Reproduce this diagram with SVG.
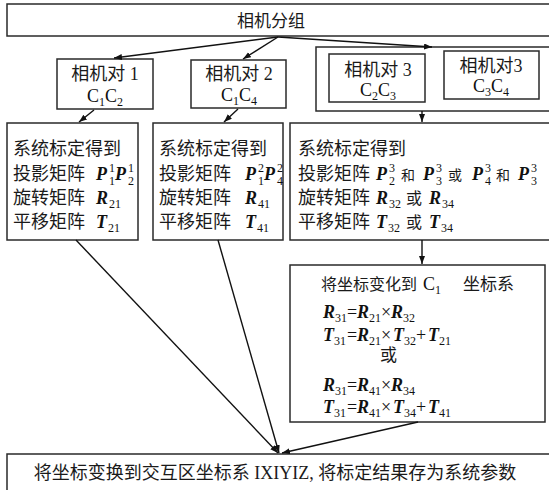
<svg xmlns="http://www.w3.org/2000/svg" width="549" height="490" viewBox="0 0 549 490">
<style>
rect.b { fill: #fff; stroke: #2a2a2a; stroke-width: 1.5; }
.cj { font-family: "Liberation Serif", "Noto Sans CJK SC", serif; font-size: 18px; fill: #1a1a1a; }
.mb { font-family: "Liberation Serif", serif; font-weight: bold; font-style: italic; font-size: 18px; fill: #111; }
.sb { font-family: "Liberation Serif", serif; font-size: 12px; fill: #111; }
.rm { font-family: "Liberation Serif", serif; font-size: 18px; fill: #111; }
.sm { font-family: "Noto Sans CJK SC", sans-serif; font-size: 14px; fill: #1a1a1a; }
#connectors line { stroke: #111; stroke-width: 1.4; marker-end: url(#ah); }
</style>
<defs>
<marker id="ah" markerUnits="userSpaceOnUse" markerWidth="9" markerHeight="7" refX="8" refY="3" orient="auto">
<path d="M0,0 L8,3 L0,6 z" fill="#111"/>
</marker>
</defs>
<rect width="549" height="490" fill="#fff"/>

<g id="top">
<rect class="b" x="7" y="4" width="560" height="32"/>
<text class="cj" x="271" y="27" text-anchor="middle" style="font-size:17px">相机分组</text>
</g>

<g id="pair1">
<rect class="b" x="57" y="59" width="96" height="50"/>
<text class="cj" x="105" y="80" text-anchor="middle">相机对 1</text>
<text class="rm" x="105" y="102" text-anchor="middle">C<tspan class="sb" dy="4">1</tspan><tspan dy="-4">C</tspan><tspan class="sb" dy="4">2</tspan></text>
</g>

<g id="pair2">
<rect class="b" x="191" y="60" width="95" height="48"/>
<text class="cj" x="239" y="80" text-anchor="middle">相机对 2</text>
<text class="rm" x="239" y="101" text-anchor="middle">C<tspan class="sb" dy="4">1</tspan><tspan dy="-4">C</tspan><tspan class="sb" dy="4">4</tspan></text>
</g>

<g id="pair3group">
<rect class="b" x="316" y="47" width="250" height="64"/>
<g id="pair3a">
<rect class="b" x="329" y="54" width="96" height="48"/>
<text class="cj" x="378" y="76" text-anchor="middle">相机对 3</text>
<text class="rm" x="378" y="96" text-anchor="middle">C<tspan class="sb" dy="4">2</tspan><tspan dy="-4">C</tspan><tspan class="sb" dy="4">3</tspan></text>
</g>
<g id="pair3b">
<rect class="b" x="444" y="51" width="95" height="48"/>
<text class="cj" x="491" y="72" text-anchor="middle">相机对3</text>
<text class="rm" x="491" y="92" text-anchor="middle">C<tspan class="sb" dy="4">3</tspan><tspan dy="-4">C</tspan><tspan class="sb" dy="4">4</tspan></text>
</g>
</g>

<g id="calib1">
<rect class="b" x="7" y="123" width="131" height="117"/>
<text class="cj" x="13" y="155">系统标定得到</text>
<text class="cj" x="13" y="180">投影矩阵</text>
<text class="mb" x="96" y="180">P</text>
<text class="sb" x="109" y="172">1</text><text class="sb" x="109" y="185">1</text>
<text class="mb" x="115" y="180">P</text>
<text class="sb" x="128" y="172">1</text><text class="sb" x="128" y="185">2</text>
<text class="cj" x="13" y="204">旋转矩阵</text>
<text class="mb" x="96" y="204">R</text><text class="sb" x="109" y="208">21</text>
<text class="cj" x="13" y="228">平移矩阵</text>
<text class="mb" x="96" y="228">T</text><text class="sb" x="108" y="232">21</text>
</g>

<g id="calib2">
<rect class="b" x="153" y="123" width="130" height="117"/>
<text class="cj" x="159" y="155">系统标定得到</text>
<text class="cj" x="159" y="180">投影矩阵</text>
<text class="mb" x="245" y="180">P</text>
<text class="sb" x="258" y="172">2</text><text class="sb" x="258" y="185">1</text>
<text class="mb" x="264" y="180">P</text>
<text class="sb" x="277" y="172">2</text><text class="sb" x="277" y="185">4</text>
<text class="cj" x="159" y="204">旋转矩阵</text>
<text class="mb" x="245" y="204">R</text><text class="sb" x="258" y="208">41</text>
<text class="cj" x="159" y="228">平移矩阵</text>
<text class="mb" x="245" y="228">T</text><text class="sb" x="257" y="232">41</text>
</g>

<g id="calib3">
<rect class="b" x="290" y="123" width="270" height="117"/>
<text class="cj" x="298" y="155">系统标定得到</text>
<text class="cj" x="298" y="180">投影矩阵</text>
<text class="mb" x="376" y="180">P</text>
<text class="sb" x="389" y="172">3</text><text class="sb" x="389" y="185">2</text>
<text class="sm" x="401" y="180">和</text>
<text class="mb" x="423" y="180">P</text>
<text class="sb" x="436" y="172">3</text><text class="sb" x="436" y="185">3</text>
<text class="sm" x="448" y="180">或</text>
<text class="mb" x="472" y="180">P</text>
<text class="sb" x="485" y="172">3</text><text class="sb" x="485" y="185">4</text>
<text class="sm" x="496" y="180">和</text>
<text class="mb" x="518" y="180">P</text>
<text class="sb" x="531" y="172">3</text><text class="sb" x="531" y="185">3</text>
<text class="cj" x="298" y="204">旋转矩阵</text>
<text class="mb" x="376" y="204">R</text><text class="sb" x="389" y="208">32</text>
<text class="sm" x="406" y="204" style="font-size:16px">或</text>
<text class="mb" x="429" y="204">R</text><text class="sb" x="442" y="208">34</text>
<text class="cj" x="298" y="228">平移矩阵</text>
<text class="mb" x="376" y="228">T</text><text class="sb" x="388" y="232">32</text>
<text class="sm" x="406" y="228" style="font-size:16px">或</text>
<text class="mb" x="429" y="228">T</text><text class="sb" x="441" y="232">34</text>
</g>

<g id="transform">
<rect class="b" x="290" y="265" width="255" height="157"/>
<text class="cj" x="321" y="290" style="font-size:16px">将坐标变化到</text>
<text class="rm" x="423" y="290">C</text><text class="sb" x="435" y="294">1</text>
<text class="cj" x="463" y="290" style="font-size:17px">坐标系</text>

<text class="mb" x="323" y="318">R</text><text class="sb" x="335" y="322">31</text>
<text class="rm" x="347" y="318">=</text>
<text class="mb" x="357" y="318">R</text><text class="sb" x="369" y="322">21</text>
<text class="rm" x="381" y="318">×</text>
<text class="mb" x="391" y="318">R</text><text class="sb" x="403" y="322">32</text>

<text class="mb" x="323" y="341">T</text><text class="sb" x="334" y="345">31</text>
<text class="rm" x="347" y="341">=</text>
<text class="mb" x="357" y="341">R</text><text class="sb" x="369" y="345">21</text>
<text class="rm" x="381" y="341">×</text>
<text class="mb" x="393" y="341">T</text><text class="sb" x="404" y="345">32</text>
<text class="rm" x="416" y="341">+</text>
<text class="mb" x="428" y="341">T</text><text class="sb" x="439" y="345">21</text>

<text class="cj" x="380" y="361" style="font-size:17px">或</text>

<text class="mb" x="323" y="391">R</text><text class="sb" x="335" y="395">31</text>
<text class="rm" x="347" y="391">=</text>
<text class="mb" x="357" y="391">R</text><text class="sb" x="369" y="395">41</text>
<text class="rm" x="381" y="391">×</text>
<text class="mb" x="391" y="391">R</text><text class="sb" x="403" y="395">34</text>

<text class="mb" x="323" y="413">T</text><text class="sb" x="334" y="417">31</text>
<text class="rm" x="347" y="413">=</text>
<text class="mb" x="357" y="413">R</text><text class="sb" x="369" y="417">41</text>
<text class="rm" x="381" y="413">×</text>
<text class="mb" x="393" y="413">T</text><text class="sb" x="404" y="417">34</text>
<text class="rm" x="416" y="413">+</text>
<text class="mb" x="428" y="413">T</text><text class="sb" x="439" y="417">41</text>
</g>

<g id="result">
<rect class="b" x="7" y="454" width="560" height="40"/>
<text class="cj" x="275" y="479" text-anchor="middle">将坐标变换到交互区坐标系 IXIYIZ, 将标定结果存为系统参数</text>
</g>

<g id="connectors">
<line x1="278" y1="37" x2="114" y2="58"/>
<line x1="278" y1="37" x2="243" y2="59"/>
<line x1="278" y1="37" x2="432" y2="47"/>
<line x1="94" y1="110" x2="79" y2="122"/>
<line x1="238" y1="109" x2="224" y2="122"/>
<line x1="422" y1="111" x2="422" y2="122"/>
<line x1="422" y1="240" x2="422" y2="264"/>
<line x1="76" y1="240" x2="278" y2="453"/>
<line x1="218" y1="240" x2="279" y2="453"/>
<line x1="418" y1="422" x2="282" y2="453"/>
</g>
</svg>
